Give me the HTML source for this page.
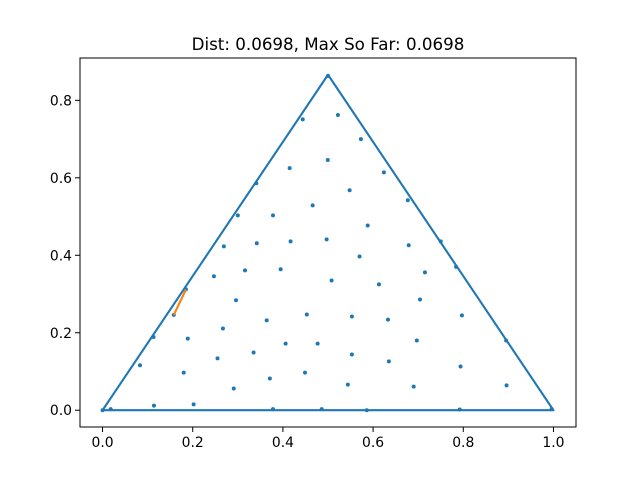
<!DOCTYPE html>
<html><head><meta charset="utf-8"><style>
html,body{margin:0;padding:0;background:#fff;}
svg{display:block;font-family:"DejaVu Sans","Liberation Sans",sans-serif;}
</style></head><body>
<svg id="chart" width="640" height="480" viewBox="0 0 640 480"></svg>
<script>
const xs = [0.500,0.444,0.4995,0.415,0.341,0.466,0.300,0.378,0.269,0.342,0.417,0.497,0.247,0.316,0.395,0.508,0.296,0.364,0.453,0.267,0.113,0.189,0.406,0.477,0.335,0.255,0.083,0.180,0.449,0.371,0.291,0.114,0.202,0.018,0.378,0.486,0.0,
0.522,0.573,0.624,0.548,0.677,0.588,0.679,0.750,0.570,0.715,0.784,0.613,0.704,0.553,0.633,0.797,0.697,0.895,0.553,0.635,0.794,0.544,0.690,0.896,0.586,0.792,0.996,0.158,0.185];
const ys = [0.863,0.751,0.646,0.625,0.586,0.529,0.503,0.503,0.423,0.431,0.436,0.441,0.346,0.361,0.364,0.335,0.284,0.232,0.247,0.211,0.189,0.185,0.172,0.172,0.149,0.134,0.116,0.097,0.097,0.082,0.056,0.012,0.015,0.003,0.003,0.003,0.0,
0.762,0.700,0.614,0.568,0.542,0.477,0.426,0.436,0.397,0.356,0.370,0.325,0.286,0.242,0.234,0.245,0.180,0.180,0.144,0.126,0.113,0.066,0.061,0.064,0.0,0.002,0.003,0.246,0.312];
const triX = [0,1,0.5,0];
const triY = [0,0,0.8660254,0];
const segX = [0.158,0.185];
const segY = [0.246,0.312];
const xTicks = [0,0.2,0.4,0.6,0.8,1.0];
const xTickLabels = ["0.0","0.2","0.4","0.6","0.8","1.0"];
const yTicks = [0,0.2,0.4,0.6,0.8];
const yTickLabels = ["0.0","0.2","0.4","0.6","0.8"];
const titleText = "Dist: 0.0698, Max So Far: 0.0698";

const NS="http://www.w3.org/2000/svg";
const svg=document.getElementById('chart');
const L=80,R=576,T=58,B=427;
const xMin=-0.05,xMax=1.05,yMin=-0.0433,yMax=0.9093;
const sx=v=>L+(v-xMin)/(xMax-xMin)*(R-L);
const sy=v=>B-(v-yMin)/(yMax-yMin)*(B-T);
function mk(tag,attrs){const e=document.createElementNS(NS,tag);for(const k in attrs)e.setAttribute(k,attrs[k]);svg.appendChild(e);return e;}

// triangle
const tri=mk('polyline',{points:triX.map((x,i)=>sx(x)+','+sy(triY[i])).join(' '),fill:'none',stroke:'#1f77b4','stroke-width':2.1,'stroke-linejoin':'round'});


// points
xs.forEach((x,i)=>{
  const c=mk('circle',{cx:sx(x),cy:sy(ys[i]),r:2,fill:'#1f77b4'});
  
  
});
// orange segment
const seg=mk('line',{x1:sx(segX[0]),y1:sy(segY[0]),x2:sx(segX[1]),y2:sy(segY[1]),stroke:'#ff7f0e','stroke-width':2.1});


// axes frame
const fr=mk('rect',{x:L,y:T,width:R-L,height:B-T,fill:'none',stroke:'#000','stroke-width':1});


xTicks.forEach((v,i)=>{
  const X=sx(v);
  const t=mk('line',{x1:X,y1:B,x2:X,y2:B+5,stroke:'#000','stroke-width':1});
  
  
  const tx=mk('text',{x:X,y:B+20,'text-anchor':'middle','font-size':'13.9px',fill:'#000'});
  tx.textContent=xTickLabels[i];
  
  
});
yTicks.forEach((v,i)=>{
  const Y=sy(v);
  const t=mk('line',{x1:L-5,y1:Y,x2:L,y2:Y,stroke:'#000','stroke-width':1});
  
  
  const tx=mk('text',{x:L-8,y:Y+5,'text-anchor':'end','font-size':'13.9px',fill:'#000'});
  tx.textContent=yTickLabels[i];
  
  
});
const ti=mk('text',{x:(L+R)/2,y:50,'text-anchor':'middle','font-size':'16.7px',fill:'#000'});
ti.textContent=titleText;


</script>
</body></html>
